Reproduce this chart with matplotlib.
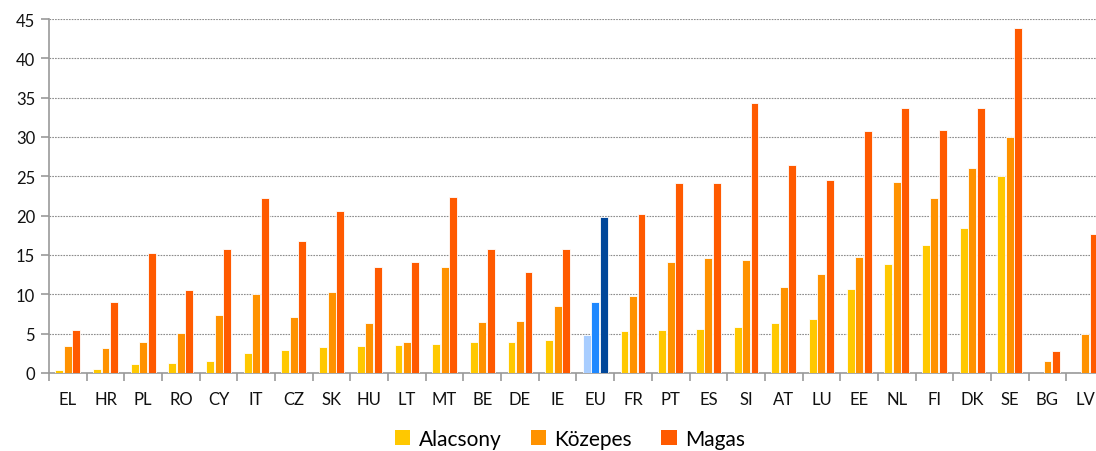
import numpy as np
import matplotlib.pyplot as plt
from matplotlib.patches import Patch

plt.rcParams['font.family'] = ['Lato', 'DejaVu Sans']

countries = ['EL', 'HR', 'PL', 'RO', 'CY', 'IT', 'CZ', 'SK', 'HU', 'LT', 'MT', 'BE', 'DE', 'IE',
             'EU', 'FR', 'PT', 'ES', 'SI', 'AT', 'LU', 'EE', 'NL', 'FI', 'DK', 'SE', 'BG', 'LV']
alacsony = [0.4, 0.55, 1.2, 1.3, 1.5, 2.5, 2.9, 3.3, 3.4, 3.6, 3.7, 3.9, 4.0, 4.2,
            4.8, 5.3, 5.5, 5.6, 5.9, 6.3, 6.9, 10.7, 13.9, 16.3, 18.4, 25.0, 0.0, 0.0]
kozepes = [3.4, 3.2, 4.0, 5.1, 7.4, 10.0, 7.1, 10.3, 6.3, 3.9, 13.5, 6.5, 6.6, 8.5,
           9.0, 9.8, 14.1, 14.6, 14.4, 10.9, 12.6, 14.7, 24.3, 22.2, 26.0, 30.0, 1.5, 5.0]
magas = [5.5, 9.0, 15.2, 10.6, 15.7, 22.2, 16.8, 20.6, 13.5, 14.1, 22.4, 15.7, 12.8, 15.7,
         19.8, 20.2, 24.1, 24.1, 34.3, 26.5, 24.5, 30.7, 33.7, 30.9, 33.7, 43.9, 2.8, 17.7]
labels = ['Alacsony', 'Közepes', 'Magas']

colors = ['#FFC800', '#FF9200', '#FF5A00']
eu_colors = ['#A8CDFF', '#1E88FF', '#00479A']

x = np.arange(len(countries))
w = 0.21
off = 0.225

fig = plt.figure(figsize=(10.96, 4.52), dpi=100)
ax = fig.add_axes([49 / 1096, 78 / 452, 1055 / 1096, 354 / 452])

for k, vals in enumerate([alacsony, kozepes, magas]):
    cols = [eu_colors[k] if c == 'EU' else colors[k] for c in countries]
    ax.bar(x + (k - 1) * off, vals, width=w, color=cols, edgecolor='white',
           linewidth=0.6, zorder=3)

ax.set_xlim(-0.5, len(countries) - 0.5)
ax.set_ylim(0, 45)
ax.set_yticks(range(0, 46, 5))
ax.set_xticks(x)
ax.set_xticklabels(countries)
ax.set_xticks(np.arange(-0.5, len(countries), 1), minor=True)

ax.grid(axis='y', color='#8c8c8c', linestyle=(0, (1.5, 1)), linewidth=0.8, zorder=0)
for s in ['top', 'right']:
    ax.spines[s].set_visible(False)
for s in ['left', 'bottom']:
    ax.spines[s].set_color('#999999')
    ax.spines[s].set_linewidth(1.2)

ax.tick_params(axis='x', which='major', length=0, pad=13, labelsize=12, colors='#111111')
ax.tick_params(axis='x', which='minor', length=6, color='#999999', width=1.2)
ax.tick_params(axis='y', length=6, color='#999999', width=1.2, labelsize=12, pad=4)
for t in ax.get_yticklabels():
    t.set_color('#111111')

handles = [Patch(facecolor=c, edgecolor='none') for c in colors]
fig.legend(handles, labels, loc='lower center', bbox_to_anchor=(0.52, -0.037), ncol=3,
           frameon=False, fontsize=15, handlelength=0.75, handleheight=0.75,
           handletextpad=0.4, columnspacing=1.4)

fig.savefig('out.png', dpi=100)
